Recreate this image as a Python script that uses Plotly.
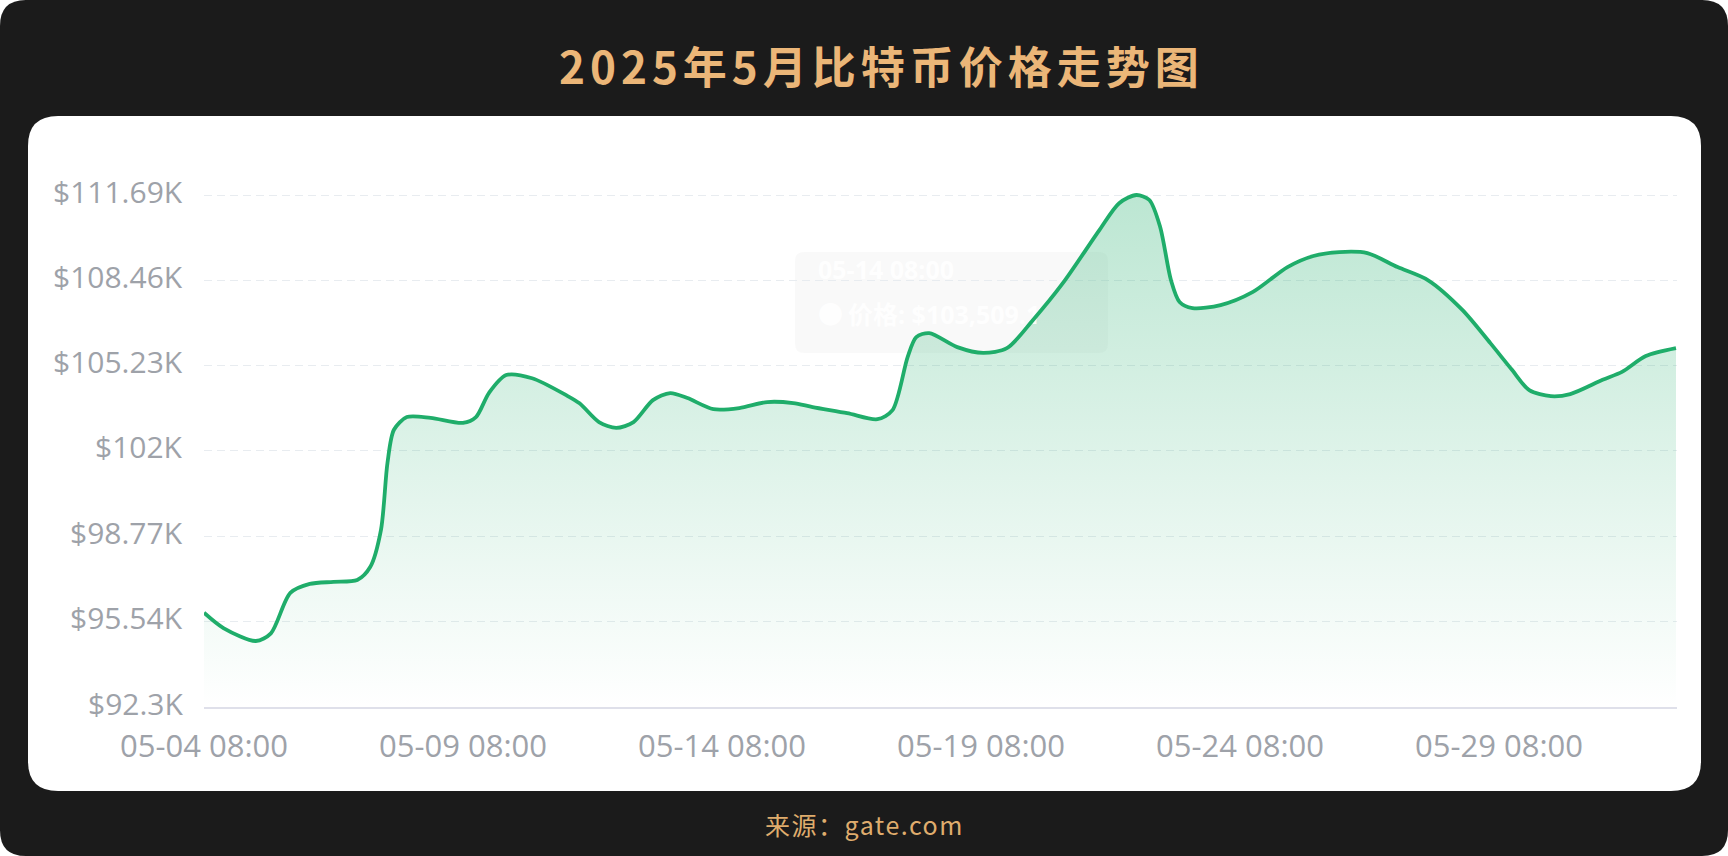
import plotly.graph_objects as go
import pandas as pd

# ---------------- data ----------------
times = [
    "2025-05-04 08:00", "2025-05-04 17:00", "2025-05-05 08:00", "2025-05-05 15:00",
    "2025-05-06 00:00", "2025-05-06 09:00", "2025-05-06 20:00", "2025-05-07 07:00",
    "2025-05-07 13:00", "2025-05-07 18:00", "2025-05-07 21:00", "2025-05-08 00:00",
    "2025-05-08 06:00", "2025-05-08 17:00", "2025-05-09 08:00", "2025-05-09 14:00",
    "2025-05-09 20:00", "2025-05-10 04:00", "2025-05-10 16:00", "2025-05-11 08:00",
    "2025-05-11 14:00", "2025-05-11 23:00", "2025-05-12 07:00", "2025-05-12 15:00",
    "2025-05-13 00:00", "2025-05-13 08:00", "2025-05-13 16:00", "2025-05-14 04:00",
    "2025-05-14 16:00", "2025-05-15 05:00", "2025-05-15 17:00", "2025-05-16 02:00",
    "2025-05-16 18:00", "2025-05-17 08:00", "2025-05-17 15:00", "2025-05-17 22:00",
    "2025-05-18 02:00", "2025-05-18 08:00", "2025-05-18 21:00", "2025-05-19 09:00",
    "2025-05-19 20:00", "2025-05-20 08:00", "2025-05-20 22:00", "2025-05-21 15:00",
    "2025-05-22 00:00", "2025-05-22 08:00", "2025-05-22 14:00", "2025-05-22 19:00",
    "2025-05-23 00:00", "2025-05-23 04:00", "2025-05-23 10:00", "2025-05-23 23:00",
    "2025-05-24 14:00", "2025-05-25 06:00", "2025-05-25 18:00", "2025-05-26 06:00",
    "2025-05-26 19:00", "2025-05-27 09:00", "2025-05-27 23:00", "2025-05-28 15:00",
    "2025-05-29 04:00", "2025-05-29 14:00", "2025-05-29 22:00", "2025-05-30 08:00",
    "2025-05-30 17:00", "2025-05-31 08:00", "2025-05-31 17:00", "2025-06-01 04:00",
    "2025-06-01 18:00",
]
prices = [
    95870, 95290, 94800, 95090,
    96620, 96960, 97040, 97110,
    97600, 99010, 101540, 102800,
    103280, 103250, 103060, 103280,
    104190, 104870, 104750, 104100,
    103800, 103090, 102870, 103090,
    103920, 104190, 104000, 103580,
    103620, 103850, 103810, 103660,
    103430, 103200, 103540, 105550,
    106310, 106460, 105930, 105710,
    105890, 106950, 108360, 110380,
    111380, 111690, 111500, 110480,
    108470, 107640, 107410, 107520,
    108020, 108960, 109380, 109530,
    109490, 108960, 108470, 107340,
    106080, 105070, 104300, 104070,
    104150, 104690, 104990, 105590,
    105890,
]
y_tickvals = [92300, 95540, 98770, 102000, 105230, 108460, 111690]
y_ticktext = ["$92.3K", "$95.54K", "$98.77K", "$102K", "$105.23K", "$108.46K", "$111.69K"]
x_tickvals = ["2025-05-04 08:00", "2025-05-09 08:00", "2025-05-14 08:00",
              "2025-05-19 08:00", "2025-05-24 08:00", "2025-05-29 08:00"]
x_ticktext = ["05-04 08:00", "05-09 08:00", "05-14 08:00",
              "05-19 08:00", "05-24 08:00", "05-29 08:00"]
x_range = ["2025-05-04 08:00", "2025-06-01 18:28"]
title_text = "2025年5月比特币价格走势图"
source_text = "来源：gate.com"
tooltip_time = "05-14 08:00"
tooltip_value = "价格: $103,509.1"

# ---------------- geometry ----------------
W, H = 1728, 856
L, R, T, B = 204, 51, 170, 149
PW, PH = W - L - R, H - T - B
Y_MIN, Y_TOP_TICK = 92300, 111690
Y_MAX = Y_MIN + (Y_TOP_TICK - Y_MIN) * PH / 512.0

GREEN = "#1fad6a"
TICK_COLOR = "#9ea2a9"


def px(x):
    return (x - L) / PW


def py(y):
    return (H - B - y) / PH


def rrect(x0, y0, x1, y1, r):
    def p(x, y):
        return f"{px(x):.6f},{py(y):.6f}"
    return (f"M{p(x0 + r, y0)} L{p(x1 - r, y0)} Q{p(x1, y0)} {p(x1, y0 + r)} "
            f"L{p(x1, y1 - r)} Q{p(x1, y1)} {p(x1 - r, y1)} "
            f"L{p(x0 + r, y1)} Q{p(x0, y1)} {p(x0, y1 - r)} "
            f"L{p(x0, y0 + r)} Q{p(x0, y0)} {p(x0 + r, y0)} Z")


t0 = pd.Timestamp(x_range[0])
t1 = pd.Timestamp(x_range[1])


def pdate(x):
    return t0 + (t1 - t0) * ((x - L) / PW)


def pval(y):
    return Y_MIN + (Y_MAX - Y_MIN) * (H - B - y) / PH


fig = go.Figure()

# filled area (gradient)
fig.add_trace(go.Scatter(
    x=times, y=prices, mode="lines",
    line=dict(width=0, shape="spline", smoothing=0.8, color=GREEN),
    fill="tozeroy",
    fillgradient=dict(type="vertical",
                      colorscale=[[0, "rgba(31,173,106,0.0)"], [1, "rgba(31,173,106,0.30)"]],
                      start=Y_MIN, stop=Y_TOP_TICK),
    hoverinfo="skip", showlegend=False,
))

# faint tooltip text (under the line)
fig.add_trace(go.Scatter(
    x=[pdate(818), pdate(818), pdate(848)],
    y=[pval(273), pval(318), pval(318)],
    mode="text",
    text=[f"<b>{tooltip_time}</b>", "●", f"<b>{tooltip_value}</b>"],
    textposition="middle right",
    textfont=dict(family="Open Sans, Noto Sans CJK SC", size=25, color="rgba(255,255,255,0.9)"),
    hoverinfo="skip", showlegend=False, cliponaxis=False,
))

# price line
fig.add_trace(go.Scatter(
    x=times, y=prices, mode="lines",
    line=dict(width=3.8, shape="spline", smoothing=0.8, color=GREEN),
    hoverinfo="skip", showlegend=False,
))

shapes = [
    dict(type="path", xref="paper", yref="paper", path=rrect(0, 0, W, H, 26),
         fillcolor="#1b1b1b", line=dict(width=0), layer="below"),
    dict(type="path", xref="paper", yref="paper", path=rrect(28, 116, 1701, 791, 30),
         fillcolor="#ffffff", line=dict(width=0), layer="below"),
    dict(type="path", xref="paper", yref="paper", path=rrect(795, 252, 1108, 353, 9),
         fillcolor="rgba(0,0,0,0.025)", line=dict(width=0), layer="below"),
]

annotations = [
    dict(text=f"<b><span style='letter-spacing:5px'>{title_text}</span></b>",
         xref="paper", yref="paper", x=px(881), y=py(65),
         xanchor="center", yanchor="middle", showarrow=False,
         font=dict(family="Noto Sans CJK SC", size=44, color="#ebb678")),
    dict(text=f"<span style='letter-spacing:1.5px'>{source_text}</span>",
         xref="paper", yref="paper", x=px(864), y=py(824),
         xanchor="center", yanchor="middle", showarrow=False,
         font=dict(family="Noto Sans CJK SC", size=25, color="#dfac6d")),
]

# y-axis labels (sit a few px above their gridlines, as in the original)
for v, t in zip(y_tickvals, y_ticktext):
    annotations.append(dict(
        text=t, xref="paper", yref="y", x=0, y=v,
        xanchor="right", yanchor="middle", xshift=-19, yshift=4, showarrow=False,
        font=dict(family="Open Sans", size=30, color=TICK_COLOR)))

fig.update_layout(
    width=W, height=H,
    margin=dict(l=L, r=R, t=T, b=B, pad=0),
    paper_bgcolor="#ffffff", plot_bgcolor="rgba(0,0,0,0)",
    shapes=shapes, annotations=annotations,
    showlegend=False, hovermode=False,
    xaxis=dict(type="date", range=x_range, tickvals=x_tickvals, ticktext=x_ticktext,
               showgrid=False, zeroline=False, showline=True, linecolor="#dfe0ea",
               linewidth=1.5, ticks="", ticklabelstandoff=11,
               tickfont=dict(family="Open Sans", size=31, color=TICK_COLOR), fixedrange=True),
    yaxis=dict(range=[Y_MIN, Y_MAX], tickvals=y_tickvals, showticklabels=False,
               showgrid=True, gridcolor="#e8ecf0", gridwidth=1, griddash="8px,5px",
               zeroline=False, showline=False, ticks="", fixedrange=True),
)

fig.write_html(
    "out.html",
    config={"displayModeBar": False},
    post_script="document.body.style.margin='0';document.body.style.overflow='hidden';",
)
